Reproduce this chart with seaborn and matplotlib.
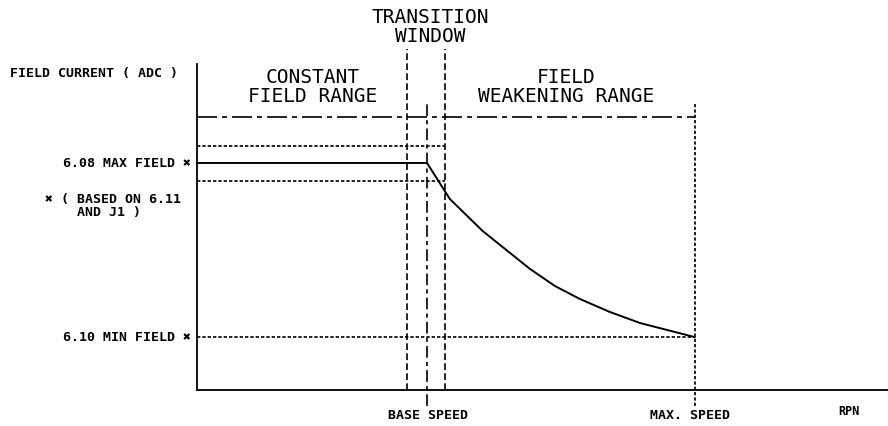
import matplotlib
matplotlib.use("Agg")
import matplotlib.pyplot as plt
import seaborn as sns
import pandas as pd

# ---- data (speed in % of max speed, current in % of max field) ----
speed_pts = [0, 46.2, 50.8, 57.4, 66.9, 71.9, 76.9, 82.9, 89.0, 100]
current_pts = [100, 100, 84.1, 70.0, 53.3, 45.8, 40.1, 34.4, 29.5, 23.3]

base_speed = 46.2
window_lo = 42.2
window_hi = 49.8
max_speed = 100
max_field = 100
min_field = 23.3
band_hi = 107.5
band_lo = 92.1
range_line = 120.3

x_max = 138.8
y_max = 143.6

sns.set_style("white")
plt.rcParams['font.family'] = ['DejaVu Sans Mono', 'DejaVu Sans']

W, H = 888, 427
fig = plt.figure(figsize=(W / 100, H / 100), dpi=100)
ax = fig.add_axes([197 / W, (H - 391) / H, (888 - 197) / W, (391 - 65) / H])
ax.set_xlim(0, x_max)
ax.set_ylim(0, y_max)
for s in ["top", "right"]:
    ax.spines[s].set_visible(False)
for s in ["left", "bottom"]:
    ax.spines[s].set_color("black")
    ax.spines[s].set_linewidth(1.3)
ax.set_xticks([])
ax.set_yticks([])

df = pd.DataFrame({"speed": speed_pts, "current": current_pts})
sns.lineplot(data=df, x="speed", y="current", ax=ax, color="black", lw=1.4,
             sort=False, estimator=None)
ax.set_xlabel("")
ax.set_ylabel("")

lw = 1.2
dot = (0, (2, 1.2))
dash = (0, (4, 2))
dashdot = (0, (12, 3, 3, 3))
dashdot_v = (0, (7, 2.5, 2.5, 2.5))

# horizontal reference lines
ax.plot([0, max_speed], [range_line, range_line], color="black", lw=lw, ls=dashdot)
ax.plot([0, window_hi], [band_hi, band_hi], color="black", lw=lw, ls=dot)
ax.plot([0, window_hi], [band_lo, band_lo], color="black", lw=lw, ls=dot)
ax.plot([0, max_speed], [min_field, min_field], color="black", lw=lw, ls=dot)

# vertical reference lines
ax.plot([window_lo, window_lo], [0, 150.2], color="black", lw=lw, ls=dash, clip_on=False)
ax.plot([window_hi, window_hi], [0, 150.2], color="black", lw=lw, ls=dash, clip_on=False)
ax.plot([base_speed, base_speed], [-7.0, 126.9], color="black", lw=lw, ls=dashdot_v, clip_on=False)
ax.plot([max_speed, max_speed], [-7.0, 126.0], color="black", lw=lw, ls=dot, clip_on=False)


def ftext(x, y, s, size, ha="left", va="center", weight="normal", ls=1.25):
    fig.text(x / W, 1 - y / H, s, fontsize=size, ha=ha, va=va,
             fontweight=weight, linespacing=ls, color="black")


big = 14
small = 9.5
ftext(430, 27, "TRANSITION\nWINDOW", big, ha="center", ls=1.0)
ftext(313, 87, "CONSTANT\nFIELD RANGE", big, ha="center", ls=1.05)
ftext(566, 87, "FIELD\nWEAKENING RANGE", big, ha="center", ls=1.05)

ftext(10, 73, "FIELD CURRENT ( ADC )", small, weight="bold")
ftext(191, 164, "6.08 MAX FIELD \u2716", small, ha="right", weight="bold")
ftext(45, 200, "\u2716 ( BASED ON 6.11", small, weight="bold")
ftext(77, 213, "AND J1 )", small, weight="bold")
ftext(191, 338, "6.10 MIN FIELD \u2716", small, ha="right", weight="bold")

ftext(428, 416, "BASE SPEED", small, ha="center", weight="bold")
ftext(690, 416, "MAX. SPEED", small, ha="center", weight="bold")
ftext(838, 412, "RPN", small - 1, weight="bold")

fig.savefig("out.png", dpi=100)
